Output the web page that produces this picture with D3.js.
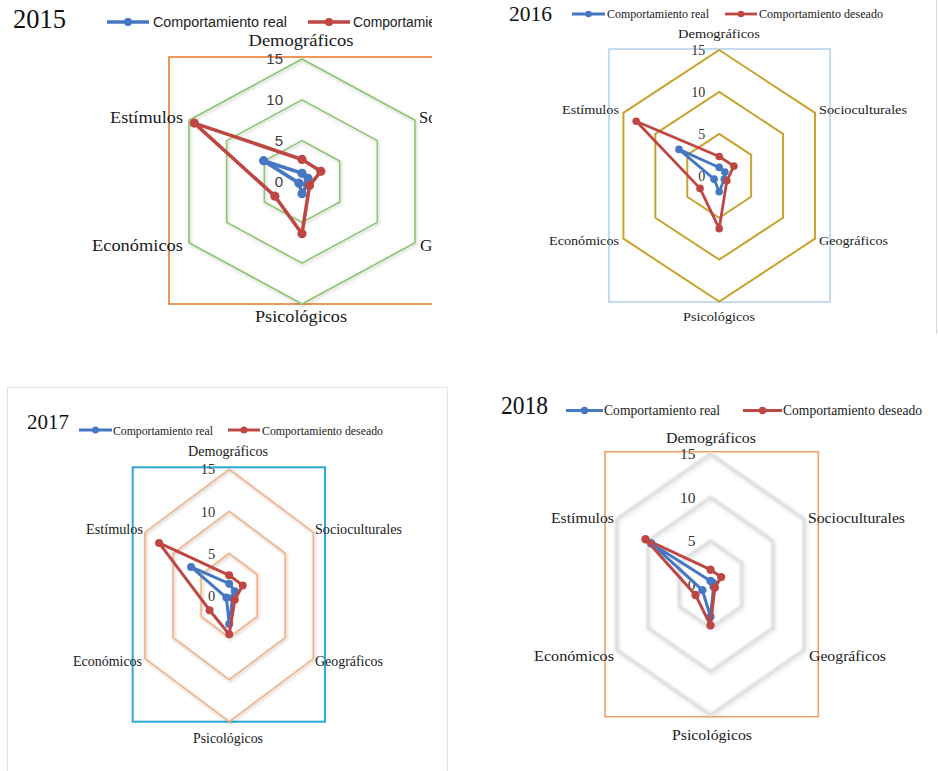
<!DOCTYPE html>
<html lang="es">
<head>
<meta charset="utf-8">
<title>Comportamiento real vs deseado 2015–2018</title>
<script src="https://cdn.jsdelivr.net/npm/d3@7/dist/d3.min.js"></script>
<style>
  html, body { margin: 0; padding: 0; background: #fff; }
  svg { display: block; }
</style>
</head>
<body>
<svg id="chart" width="938" height="771"></svg>
<script>
// ---- Data ----------------------------------------------------------------
const axisNames = ["Demográficos", "Socioculturales", "Geográficos", "Psicológicos", "Económicos", "Estímulos"];
const years = ["2015", "2016", "2017", "2018"];
const seriesNames = ["Comportamiento real", "Comportamiento deseado"];
const tickValues = [0, 5, 10, 15];
const maxValue = 15;

// values per axis, in the order of axisNames
const real2015    = [1.0, 0.8, 0.7, 1.5, 0.4, 5.1];
const deseado2015 = [2.7, 2.5, 1.0, 6.4, 3.6, 14.3];
const real2016    = [1.0, 0.9, 0.8, 1.9, 0.8, 6.3];
const deseado2016 = [2.3, 2.3, 1.2, 6.3, 3.0, 13.0];
const real2017    = [1.4, 1.0, 0.6, 3.4, 0.5, 6.8];
const deseado2017 = [2.4, 2.4, 1.0, 4.6, 3.5, 12.5];
const real2018    = [0.4, 0.4, 0.5, 3.7, 1.3, 9.5];
const deseado2018 = [1.7, 1.7, 0.7, 4.7, 2.4, 10.4];

const realByYear    = [real2015, real2016, real2017, real2018];
const deseadoByYear = [deseado2015, deseado2016, deseado2017, deseado2018];

// ---- Layout and styling of the four panels --------------------------------
const seriesColors = ["#4677c3", "#be4744"];
const serif = "'Liberation Serif', 'Times New Roman', serif";
const sans = "'Liberation Sans', Arial, sans-serif";

const panels = [
  { // 2015
    cx: 302, cy: 181.5, rx: 130.5, ry: 122.5,
    clip: [0, 0, 432, 340],
    frame: { x: 169, y: 57, w: 266, h: 247, color: "#ed7d31", width: 1.6 },
    ring: { color: "#8dc56f", width: 1.6, filter: "shadowSoft" },
    title: { x: 13, y: 28, size: 27, len: 53 },
    legend: { y: 22, segs: [[107, 149], [308, 350]], textX: [153, 353], len: [134, 159], size: 14, font: sans },
    labelFont: serif, labelSize: 17, labelBold: false,
    labels: [
      { x: 301, y: 46, anchor: "middle", len: 105 },
      { x: 419, y: 123, anchor: "start", len: 102 },
      { x: 420, y: 251, anchor: "start", len: 84 },
      { x: 301, y: 322, anchor: "middle", len: 92 },
      { x: 183, y: 251, anchor: "end", len: 91 },
      { x: 183, y: 123, anchor: "end", len: 73 }
    ],
    tickFont: sans, tickSize: 15, tickPad: 19, tickColor: "#404040",
    lineWidth: 3.6, markerR: 4.6
  },
  { // 2016
    cx: 719.2, cy: 175.8, rx: 110.6, ry: 125.8,
    clip: null,
    frame: { x: 609, y: 49, w: 221, h: 253, color: "#a9c8e8", width: 1.3 },
    ring: { color: "#c9a330", width: 2, filter: null },
    title: { x: 509, y: 21, size: 22, len: 43 },
    legend: { y: 14, segs: [[572, 605], [725, 757]], textX: [607, 759], len: [102, 124], size: 12, font: serif },
    labelFont: serif, labelSize: 13.5,
    labels: [
      { x: 719, y: 38, anchor: "middle", len: 82 },
      { x: 819, y: 114, anchor: "start", len: 88 },
      { x: 819, y: 245, anchor: "start", len: 69 },
      { x: 719, y: 321, anchor: "middle", len: 72 },
      { x: 619, y: 245, anchor: "end", len: 70 },
      { x: 619, y: 114, anchor: "end", len: 57 }
    ],
    tickFont: serif, tickSize: 14, tickPad: 14, tickColor: "#333",
    lineWidth: 2.8, markerR: 3.8
  },
  { // 2017
    cx: 229.2, cy: 595.5, rx: 97.2, ry: 126.2,
    clip: null,
    frame: { x: 132.7, y: 467.3, w: 192.3, h: 254.4, color: "#2ba7d8", width: 2 },
    ring: { color: "#f3b58b", width: 1.8, filter: "shadowSoft" },
    title: { x: 27, y: 429, size: 22, len: 42 },
    legend: { y: 430, segs: [[79, 112], [228, 260]], textX: [113, 262], len: [100, 121], size: 13, font: serif },
    labelFont: serif, labelSize: 14,
    labels: [
      { x: 228, y: 456, anchor: "middle", len: 80 },
      { x: 315, y: 534, anchor: "start", len: 87 },
      { x: 315, y: 666, anchor: "start", len: 68 },
      { x: 228, y: 743, anchor: "middle", len: 70 },
      { x: 142, y: 666, anchor: "end", len: 69 },
      { x: 143, y: 534, anchor: "end", len: 57 }
    ],
    tickFont: serif, tickSize: 14.5, tickPad: 14, tickColor: "#333",
    lineWidth: 3, markerR: 4
  },
  { // 2018
    cx: 710.5, cy: 584.5, rx: 108.3, ry: 130.5,
    clip: null,
    frame: { x: 605, y: 451.7, w: 213.3, h: 265, color: "#f0a06a", width: 1.6 },
    ring: { color: "#dcdcdc", width: 3.2, filter: "shadowBlur" },
    title: { x: 501, y: 414, size: 26, len: 47 },
    legend: { y: 410.5, segs: [[566, 603], [743, 782]], textX: [604, 783], len: [116, 139], size: 14, font: serif },
    labelFont: serif, labelSize: 15.5,
    labels: [
      { x: 711, y: 443, anchor: "middle", len: 90 },
      { x: 808, y: 523, anchor: "start", len: 97 },
      { x: 809, y: 661, anchor: "start", len: 77 },
      { x: 712, y: 740, anchor: "middle", len: 80 },
      { x: 614, y: 661, anchor: "end", len: 80 },
      { x: 614, y: 523, anchor: "end", len: 63 }
    ],
    tickFont: serif, tickSize: 15.5, tickPad: 15, tickColor: "#333",
    lineWidth: 3, markerR: 4.2
  }
];

// ---- Drawing ---------------------------------------------------------------
const svg = d3.select("#chart");
const defs = svg.append("defs");

const fSoft = defs.append("filter").attr("id", "shadowSoft")
  .attr("x", "-10%").attr("y", "-10%").attr("width", "120%").attr("height", "120%");
fSoft.append("feDropShadow").attr("dx", 1).attr("dy", 1.5).attr("stdDeviation", 1.6)
  .attr("flood-color", "#000").attr("flood-opacity", 0.22);

const fBlur = defs.append("filter").attr("id", "shadowBlur")
  .attr("x", "-10%").attr("y", "-10%").attr("width", "120%").attr("height", "120%");
fBlur.append("feGaussianBlur").attr("in", "SourceGraphic").attr("stdDeviation", 0.8).attr("result", "b");
fBlur.append("feDropShadow").attr("in", "b").attr("dx", 1).attr("dy", 1.5).attr("stdDeviation", 1.5)
  .attr("flood-color", "#000").attr("flood-opacity", 0.15);

// outer panel borders
svg.append("line").attr("x1", 936.5).attr("x2", 936.5).attr("y1", 0).attr("y2", 334)
  .attr("stroke", "#d6d6d6").attr("stroke-width", 1);
svg.append("rect").attr("x", 7.5).attr("y", 387.5).attr("width", 440).attr("height", 390)
  .attr("fill", "none").attr("stroke", "#e2e2e2").attr("stroke-width", 1);

const angle = d3.scaleLinear().domain([0, axisNames.length]).range([0, 2 * Math.PI]);

panels.forEach((p, i) => {
  let g = svg.append("g").attr("class", "panel-" + years[i]);
  if (p.clip) {
    const id = "clip-" + years[i];
    defs.append("clipPath").attr("id", id).append("rect")
      .attr("x", p.clip[0]).attr("y", p.clip[1]).attr("width", p.clip[2]).attr("height", p.clip[3]);
    g.attr("clip-path", `url(#${id})`);
  }

  const rX = d3.scaleLinear().domain([0, maxValue]).range([0, p.rx]);
  const rY = d3.scaleLinear().domain([0, maxValue]).range([0, p.ry]);
  const px = (k, v) => p.cx + rX(v) * Math.sin(angle(k));
  const py = (k, v) => p.cy - rY(v) * Math.cos(angle(k));

  // plot-area frame
  g.append("rect")
    .attr("x", p.frame.x).attr("y", p.frame.y).attr("width", p.frame.w).attr("height", p.frame.h)
    .attr("fill", "none").attr("stroke", p.frame.color).attr("stroke-width", p.frame.width);

  // hexagonal grid rings
  const ringLine = d3.line().x(d => px(d.k, d.v)).y(d => py(d.k, d.v)).curve(d3.curveLinearClosed);
  g.append("g").attr("class", "rings")
    .attr("filter", p.ring.filter ? `url(#${p.ring.filter})` : null)
    .selectAll("path")
    .data(tickValues.filter(t => t > 0))
    .join("path")
    .attr("d", t => ringLine(axisNames.map((_, k) => ({ k, v: t }))))
    .attr("fill", "none")
    .attr("stroke", p.ring.color)
    .attr("stroke-width", p.ring.width)
    .attr("stroke-linejoin", "miter");

  // radial value axis (tick labels only)
  const yAxisScale = d3.scaleLinear().domain([0, maxValue]).range([p.cy, p.cy - p.ry]);
  const ax = g.append("g").attr("transform", `translate(${p.cx},0)`)
    .call(d3.axisLeft(yAxisScale).tickValues(tickValues).tickSize(0).tickPadding(p.tickPad).tickFormat(d3.format("d")));
  ax.select(".domain").remove();
  ax.attr("font-family", p.tickFont).attr("font-size", p.tickSize);
  ax.selectAll("text").attr("fill", p.tickColor);

  // category labels
  g.append("g").selectAll("text")
    .data(axisNames)
    .join("text")
    .attr("x", (d, k) => p.labels[k].x)
    .attr("y", (d, k) => p.labels[k].y)
    .attr("text-anchor", (d, k) => p.labels[k].anchor)
    .attr("textLength", (d, k) => p.labels[k].len)
    .attr("lengthAdjust", "spacingAndGlyphs")
    .attr("font-family", p.labelFont)
    .attr("font-size", p.labelSize)
    .attr("fill", "#1a1a1a")
    .text(d => d);

  // series polygons with markers
  const series = [realByYear[i], deseadoByYear[i]];
  const seriesLine = d3.line().x(d => px(d.k, d.v)).y(d => py(d.k, d.v)).curve(d3.curveLinearClosed);
  series.forEach((vals, s) => {
    const pts = vals.map((v, k) => ({ k, v }));
    const sg = g.append("g").attr("class", "series-" + s);
    sg.append("path")
      .attr("d", seriesLine(pts))
      .attr("fill", "none")
      .attr("stroke", seriesColors[s])
      .attr("stroke-width", p.lineWidth)
      .attr("stroke-linejoin", "round");
    sg.selectAll("circle")
      .data(pts)
      .join("circle")
      .attr("cx", d => px(d.k, d.v))
      .attr("cy", d => py(d.k, d.v))
      .attr("r", p.markerR)
      .attr("fill", seriesColors[s]);
  });

  // year title
  g.append("text")
    .attr("x", p.title.x).attr("y", p.title.y)
    .attr("font-family", serif).attr("font-size", p.title.size)
    .attr("textLength", p.title.len).attr("lengthAdjust", "spacingAndGlyphs")
    .attr("fill", "#111")
    .text(years[i]);

  // legend
  const lg = g.append("g").attr("class", "legend");
  seriesNames.forEach((name, s) => {
    const [x1, x2] = p.legend.segs[s];
    lg.append("line")
      .attr("x1", x1).attr("x2", x2).attr("y1", p.legend.y).attr("y2", p.legend.y)
      .attr("stroke", seriesColors[s]).attr("stroke-width", p.lineWidth);
    lg.append("circle")
      .attr("cx", (x1 + x2) / 2).attr("cy", p.legend.y).attr("r", p.markerR - 0.5)
      .attr("fill", seriesColors[s]);
    lg.append("text")
      .attr("x", p.legend.textX[s]).attr("y", p.legend.y)
      .attr("dy", "0.35em")
      .attr("font-family", p.legend.font).attr("font-size", p.legend.size)
      .attr("textLength", p.legend.len[s]).attr("lengthAdjust", "spacingAndGlyphs")
      .attr("fill", "#222")
      .text(name);
  });
});
</script>
</body>
</html>
